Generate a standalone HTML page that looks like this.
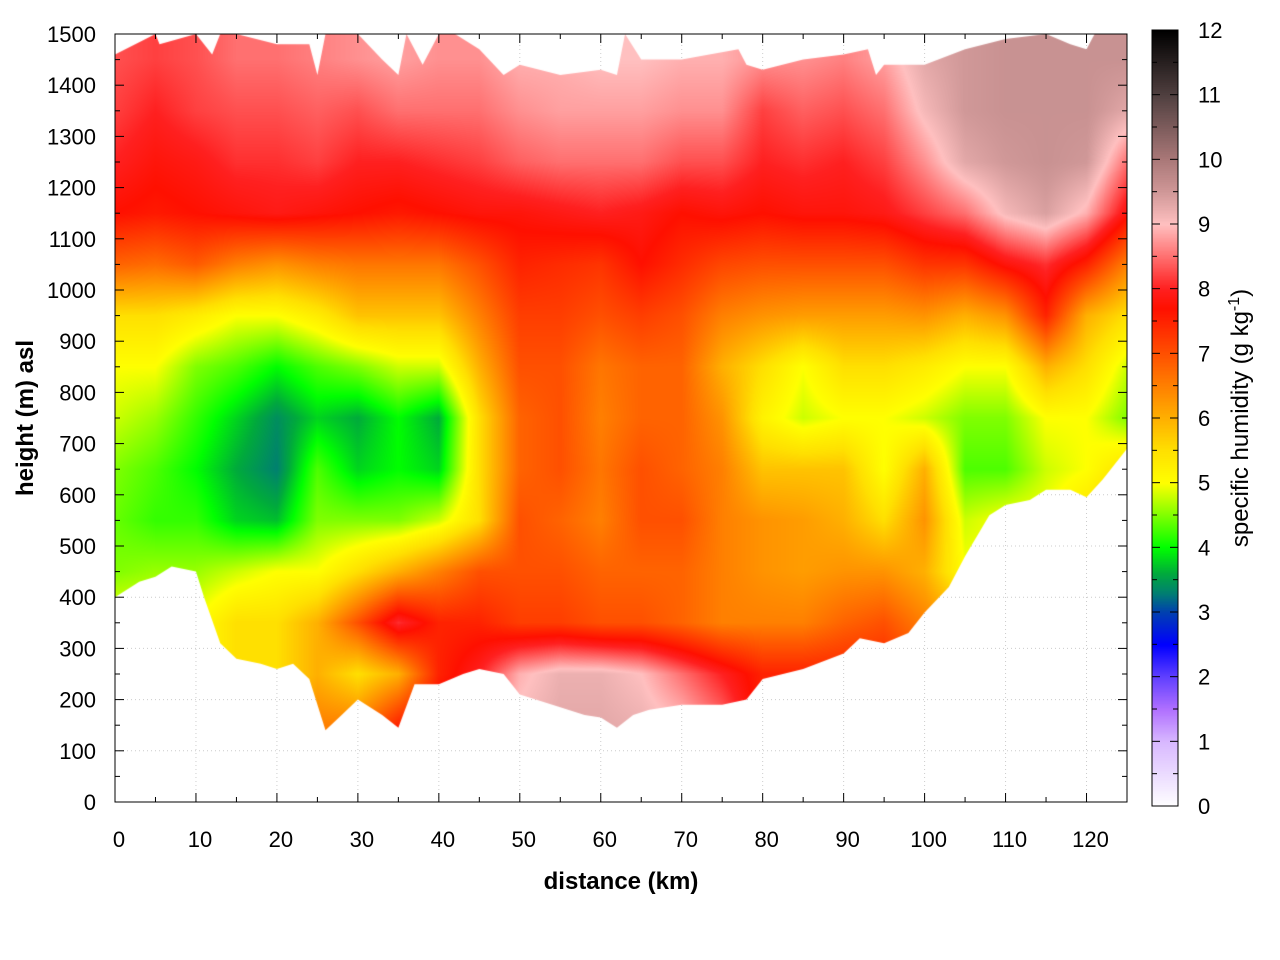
<!DOCTYPE html>
<html><head><meta charset="utf-8">
<style>
body{margin:0;background:#fff;width:1280px;height:960px;overflow:hidden;font-family:"Liberation Sans",sans-serif}
#wrap{position:relative;width:1280px;height:960px}
canvas,svg{position:absolute;left:0;top:0}
</style></head><body>
<div id="wrap">
<svg id="bg" width="1280" height="960"></svg>
<canvas id="cv" width="1280" height="960"></canvas>
<svg id="fg" width="1280" height="960"></svg>
</div>
<script>
const distances=[0,5,10,15,20,25,30,35,40,45,50,55,60,65,70,75,80,85,90,95,100,105,110,115,120,125];
const heights=[1450,1350,1250,1150,1050,950,850,750,650,550,450,350,250,150,50];
const humidity=[
[8.3,8.2,8.3,8.5,8.5,8.6,8.7,8.8,8.7,8.7,8.9,8.9,9,9,8.9,8.9,8.7,8.7,8.6,8.8,9.3,9.5,9.6,9.6,9.6,9.6],
[8.2,8,8.2,8.3,8.3,8.4,8.3,8.5,8.5,8.5,8.7,8.8,8.8,8.8,8.7,8.7,8.2,8.4,8.3,8.5,9.1,9.5,9.6,9.6,9.6,9.3],
[8,7.8,7.9,8.1,8.1,8.2,8,8,8.1,8.2,8.4,8.5,8.5,8.5,8.3,8.3,8,8.1,8,8.2,8.7,9.3,9.5,9.6,9.5,8.5],
[7.7,7.6,7.7,7.8,7.9,7.8,7.7,7.6,7.7,7.8,7.8,7.9,8,7.9,7.7,7.8,7.7,7.8,7.8,7.9,8.2,8.5,9.1,9.4,8.9,7.8],
[6.8,6.7,6.9,6.5,6.3,6.5,6.6,6.6,6.6,7,7.5,7.4,7.3,7.7,7.4,7.1,7,7,7,7,7.3,7.3,7.8,8.1,7.5,6.5],
[5.5,5.5,5.3,5,5,5.3,5.8,5.8,5.8,6.5,7.2,7.2,7,7.2,7,6.5,6.3,6.2,6.2,6.2,6.3,6,6.3,7.5,6,5.5],
[5,5,4.5,4.3,4,4.3,4.5,4.8,4.8,6,7,7,6.6,6.8,6.8,6,5.5,5,5.5,5.5,5.3,5,5,6,5.5,4.8],
[4.8,4.6,4.2,3.8,3.4,3.8,3.6,4,3.6,5.5,6.8,7,6.5,6.8,6.8,6.3,5.2,4.8,5,5,4.8,4.5,4.5,5,5,4.5],
[4.5,4.3,4,3.6,3.3,4.3,3.8,4,3.8,5.5,6.8,7,6.6,7,6.8,6.5,5.8,5.8,5.8,5,6,4.3,4.3,4.8,5,5.5],
[4.4,4.2,4.2,3.8,3.7,4.5,4.5,4.5,4.8,5.5,7,6.8,6.5,7,7,6.5,6.3,6.2,6,5.5,6.3,4.8,5,5,5.5,6],
[4.5,4.6,4.6,4.8,5,5,5.5,6,6.5,7,7,7,6.8,6.8,6.8,6.5,6.3,6.2,6.3,6.3,6,5,5,5,5,5],
[5,5,5,5.5,5.5,6,7,8.1,7.5,7.5,7.2,7.2,7,7,6.8,6.5,6.5,6.5,6.8,7,6.5,6,6,6,6,6],
[5,5,5,5.5,5.5,6,5.5,6,7.5,8,8.9,9.2,9.2,9,8.5,8,7.5,7.5,7.5,7.5,7,7,7,7,7,7],
[5,5,5,5.5,5.5,6.5,6.5,7.5,8,8.8,9.1,9.3,9.3,9.2,9,8.5,7.5,7.5,7.5,7.5,7,7,7,7,7,7],
[5,5,5,5.5,5.5,6.5,6.5,7.5,8,8.8,9.1,9.3,9.3,9.2,9,8.5,7.5,7.5,7.5,7.5,7,7,7,7,7,7]];
const groundDist=[0,3,5,7,10,11,13,15,18,20,22,24,26,28,30,33,35,37,40,43,45,48,50,55,58,60,62,64,66,70,75,78,80,85,90,92,95,98,100,103,105,108,110,113,115,118,120,122,125];
const groundH=[400,430,440,460,450,400,310,280,270,260,270,240,140,170,200,170,145,230,230,250,260,250,210,185,170,165,145,170,180,190,190,200,240,260,290,320,310,330,370,420,480,560,580,590,610,610,595,630,690];
const topDist=[0,5,5.5,10,12,13,15,20,24,25,26,30,33,35,36,38,40,42,45,48,50,55,60,62,63,65,70,77,78,80,85,90,93,94,95,100,105,110,115,118,120,121,125];
const topH=[1460,1500,1480,1500,1460,1500,1500,1480,1480,1420,1500,1500,1450,1420,1500,1440,1500,1500,1470,1420,1440,1420,1430,1420,1500,1450,1450,1470,1440,1430,1450,1460,1470,1420,1440,1440,1470,1490,1500,1480,1470,1500,1500];
const cbTicks=[0,1,2,3,4,5,6,7,8,9,10,11,12];
const xTicks=[0,10,20,30,40,50,60,70,80,90,100,110,120];
const yTicks=[0,100,200,300,400,500,600,700,800,900,1000,1100,1200,1300,1400,1500];

const X0=115,X1=1127,Y0=802,Y1=34;
const xs=d=>X0+(d/125)*(X1-X0);
const ys=h=>Y0-(h/1500)*(Y0-Y1);
const stops=[[0,[255,255,255]],[1,[216,184,255]],[1.5,[176,112,255]],[2,[96,64,255]],[2.5,[0,0,255]],[3,[0,64,176]],[3.3,[0,128,112]],[3.6,[0,170,60]],[4,[0,255,0]],[4.5,[128,255,0]],[5,[255,255,0]],[5.5,[255,224,0]],[6,[255,176,0]],[7,[255,80,0]],[7.7,[255,16,0]],[8,[255,32,32]],[8.5,[255,112,112]],[9,[255,192,192]],[9.5,[208,152,152]],[10,[170,120,120]],[11,[80,64,64]],[12,[0,0,0]]];
function cmap(v){v=Math.max(0,Math.min(12,v));for(let i=1;i<stops.length;i++){if(v<=stops[i][0]){const a=stops[i-1],b=stops[i];const t=(v-a[0])/(b[0]-a[0]);return [0,1,2].map(k=>Math.round(a[1][k]+t*(b[1][k]-a[1][k])));}}return stops[stops.length-1][1];}

const cv=document.getElementById('cv');const ctx=cv.getContext('2d');
const W=X1-X0,H=Y0-Y1;const img=ctx.createImageData(W,H);
for(let py=0;py<H;py++){const h=1500-(py+0.5)/H*1500;
 let r=(1450-h)/100;r=Math.max(0,Math.min(heights.length-1,r));const r0=Math.floor(r),r1=Math.min(heights.length-1,r0+1),tr=r-r0;
 for(let px=0;px<W;px++){const d=(px+0.5)/W*125;let c=d/5;const c0=Math.floor(c),c1=Math.min(distances.length-1,c0+1),tc=c-c0;
  const v=(humidity[r0][c0]*(1-tc)+humidity[r0][c1]*tc)*(1-tr)+(humidity[r1][c0]*(1-tc)+humidity[r1][c1]*tc)*tr;
  const col=cmap(v);const i=(py*W+px)*4;img.data[i]=col[0];img.data[i+1]=col[1];img.data[i+2]=col[2];img.data[i+3]=255;}}
const off=document.createElement('canvas');off.width=W;off.height=H;off.getContext('2d').putImageData(img,0,0);
ctx.save();ctx.beginPath();
topDist.forEach((d,i)=>{i?ctx.lineTo(xs(d),ys(topH[i])):ctx.moveTo(xs(d),ys(topH[i]));});
for(let i=groundDist.length-1;i>=0;i--)ctx.lineTo(xs(groundDist[i]),ys(groundH[i]));
ctx.closePath();ctx.clip();ctx.drawImage(off,X0,Y1);ctx.restore();
const CB={x:1152,w:26,y0:806,y1:30};
for(let y=CB.y1;y<CB.y0;y++){const v=(CB.y0-y)/(CB.y0-CB.y1)*12;const c=cmap(v);ctx.fillStyle=`rgb(${c})`;ctx.fillRect(CB.x,y,CB.w,1);}

const NS='http://www.w3.org/2000/svg';
function el(p,tag,attrs,txt){const e=document.createElementNS(NS,tag);for(const k in attrs)e.setAttribute(k,attrs[k]);if(txt!==undefined)e.textContent=txt;p.appendChild(e);return e;}
const bg=document.getElementById('bg'),fg=document.getElementById('fg');
xTicks.forEach(t=>{const g=el(bg,'line',{x1:xs(t),x2:xs(t),y1:Y0,y2:Y1,stroke:'#ccc','stroke-dasharray':'1,3'});});
yTicks.forEach(t=>{const g=el(bg,'line',{x1:X0,x2:X1,y1:ys(t),y2:ys(t),stroke:'#ccc','stroke-dasharray':'1,3'});});
const fr=el(fg,'rect',{x:X0,y:Y1,width:W,height:H,fill:'none',stroke:'#000','stroke-width':1});

for(let d=0;d<=125;d+=5){const L=d%10===0?9:5;
 el(fg,'line',{x1:xs(d),x2:xs(d),y1:Y0,y2:Y0-L,stroke:'#000'});el(fg,'line',{x1:xs(d),x2:xs(d),y1:Y1,y2:Y1+L,stroke:'#000'});}
for(let h=0;h<=1500;h+=50){const L=h%100===0?9:5;
 el(fg,'line',{x1:X0,x2:X0+L,y1:ys(h),y2:ys(h),stroke:'#000'});el(fg,'line',{x1:X1,x2:X1-L,y1:ys(h),y2:ys(h),stroke:'#000'});}
xTicks.forEach(t=>{const e=el(fg,'text',{x:xs(t)+4,y:847,'text-anchor':'middle','font-size':22,fill:'#000'},t);});
yTicks.forEach(t=>{const e=el(fg,'text',{x:96,y:ys(t)+8,'text-anchor':'end','font-size':22,fill:'#000'},t);});
const xt=el(fg,'text',{x:621,y:889,'text-anchor':'middle','font-size':24,'font-weight':'bold'},'distance (km)');

const yt=el(fg,'text',{x:0,y:0,'text-anchor':'middle','font-size':24,'font-weight':'bold',transform:'translate(33,418) rotate(-90)'},'height (m) asl');

const cbr=el(fg,'rect',{x:CB.x,y:CB.y1,width:CB.w,height:CB.y0-CB.y1,fill:'none',stroke:'#000'});

const cy=v=>CB.y0-v/12*(CB.y0-CB.y1);
for(let v=0;v<=12;v+=0.5){const L=v%1===0?8:5;el(fg,'line',{x1:CB.x,x2:CB.x+L,y1:cy(v),y2:cy(v),stroke:'#000'});el(fg,'line',{x1:CB.x+CB.w,x2:CB.x+CB.w-L,y1:cy(v),y2:cy(v),stroke:'#000'});}
cbTicks.forEach(t=>{const e=el(fg,'text',{x:1198,y:cy(t)+8,'font-size':22},t);});
const ct=el(fg,'text',{x:0,y:0,'text-anchor':'middle','font-size':24,transform:'translate(1248,418) rotate(-90)'});

el(ct,'tspan',{},'specific humidity (g kg');el(ct,'tspan',{dy:-9,'font-size':16},'-1');el(ct,'tspan',{dy:9},')');
</script>
</body></html>
